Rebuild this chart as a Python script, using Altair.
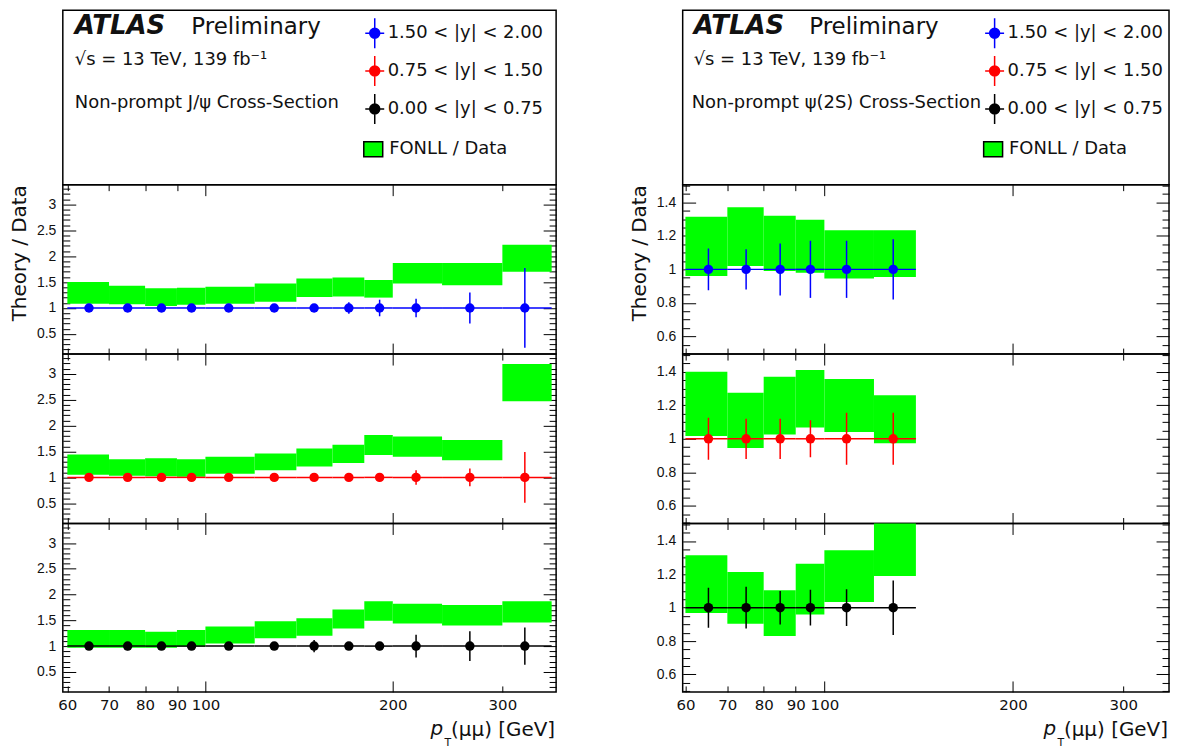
import altair as alt
import pandas as pd

FONT = "DejaVu Sans"
NUMFONT = "Liberation Sans"
TXT = "#111111"

RAP_LABELS = ["1.50 < |y| < 2.00", "0.75 < |y| < 1.50", "0.00 < |y| < 0.75"]
RAP_COLORS = ["#0000ff", "#ff0000", "#000000"]
BAND_COLOR = "#00ff00"
BAND_LABEL = "FONLL / Data"

X_TICK_LABELS = [60, 70, 80, 90, 100, 200, 300]
X_MAJOR = [100, 200]

# ---------------- Non-prompt J/psi ----------------
JPSI_EDGES = [60, 70, 80, 90, 100, 120, 140, 160, 180, 200, 240, 300, 360]
JPSI_PT = [65, 75, 85, 95, 109, 129, 149.5, 170, 190.5, 218, 266, 326]
JPSI_RATIO = [1.0, 1.0, 1.0, 1.0, 1.0, 1.0, 1.0, 1.0, 1.0, 1.0, 1.0, 1.0]
JPSI_LO = [
    [1.08, 1.07, 1.04, 1.06, 1.08, 1.12, 1.21, 1.22, 1.20, 1.47, 1.44, 1.70],
    [1.05, 1.03, 1.02, 1.01, 1.07, 1.14, 1.21, 1.28, 1.43, 1.40, 1.33, 2.47],
    [0.97, 0.97, 0.97, 0.99, 1.05, 1.15, 1.20, 1.34, 1.49, 1.44, 1.40, 1.46],
]
JPSI_HI = [
    [1.50, 1.43, 1.38, 1.39, 1.41, 1.47, 1.57, 1.59, 1.54, 1.87, 1.87, 2.22],
    [1.44, 1.35, 1.37, 1.35, 1.40, 1.46, 1.56, 1.63, 1.82, 1.79, 1.72, 3.19],
    [1.31, 1.31, 1.28, 1.31, 1.38, 1.48, 1.54, 1.71, 1.87, 1.82, 1.80, 1.87],
]
JPSI_ERR = [
    [0.04, 0.04, 0.04, 0.04, 0.05, 0.05, 0.06, 0.11, 0.16, 0.18, 0.30, 0.77],
    [0.06, 0.06, 0.05, 0.05, 0.05, 0.05, 0.06, 0.06, 0.08, 0.14, 0.17, 0.49],
    [0.07, 0.08, 0.06, 0.06, 0.06, 0.06, 0.12, 0.07, 0.08, 0.22, 0.29, 0.36],
]

# ---------------- Non-prompt psi(2S) ----------------
PSI_EDGES = [60, 70, 80, 90, 100, 120, 140]
PSI_PT = [65.3, 75, 85, 95, 108.5, 128.8]
PSI_RATIO = [1.0, 1.0, 1.0, 1.0, 1.0, 1.0]
PSI_LO = [
    [0.960, 1.020, 0.990, 0.980, 0.946, 0.954],
    [1.016, 0.945, 1.025, 1.067, 1.040, 0.973],
    [0.968, 0.904, 0.830, 0.960, 1.034, 1.190],
]
PSI_HI = [
    [1.314, 1.370, 1.320, 1.296, 1.234, 1.234],
    [1.400, 1.275, 1.370, 1.410, 1.357, 1.260],
    [1.314, 1.214, 1.104, 1.264, 1.344, 1.560],
]
PSI_ERR = [
    [0.125, 0.120, 0.155, 0.170, 0.170, 0.180],
    [0.125, 0.120, 0.120, 0.110, 0.155, 0.155],
    [0.120, 0.125, 0.100, 0.107, 0.110, 0.163],
]

L_YMAJOR = [0.5, 1.0, 1.5, 2.0, 2.5, 3.0]
L_YMINOR = [round(0.2 + 0.1 * i, 2) for i in range(32)]
R_YMAJOR = [0.6, 0.8, 1.0, 1.2, 1.4]
R_YMINOR = [round(0.5 + 0.05 * i, 2) for i in range(21)]

SYM = ("M0,-1.225L0,1.225M-0.776,0L0.776,0M-0.408,0A0.408,0.408,0,1,1,0.408,0"
       "A0.408,0.408,0,1,1,-0.408,0Z")
RECT = "M-1,-0.8L1,-0.8L1,0.8L-1,0.8Z"

HH = 175
HP = [170, 170, 169]
ONE = pd.DataFrame({"a": [1]})


def tick_cond(major, big, small):
    test = "indexof([" + ",".join(str(v) for v in major) + "], datum.value) >= 0"
    return {"condition": {"test": test, "value": big}, "value": small}


def panel(edges, pts, ratio, lo, hi, err, color, xdom, ydom, ymajor, yminor,
          W, H, ytitle, bottom):
    df = pd.DataFrame({"x0": edges[:-1], "x1": edges[1:], "pt": pts, "r": ratio,
                       "lo": lo, "hi": hi, "e": err})
    df["rlo"] = df["r"] - df["e"]
    df["rhi"] = df["r"] + df["e"]
    xs = alt.Scale(type="log", domain=xdom, nice=False)
    ys = alt.Scale(domain=ydom, nice=False, zero=False)
    base = alt.Chart(df)

    if bottom:
        xaxis = alt.Axis(orient="bottom", values=X_TICK_LABELS, format="d", ticks=False,
                         domain=False, grid=False, labelFont=FONT, labelFontSize=15,
                         labelColor=TXT, labelPadding=6, labelFlush=False,
                         labelOverlap=False, title=None)
    else:
        xaxis = None
    ykw = dict(orient="left", values=ymajor, format="~g", ticks=False, domain=False,
               grid=False, labelFont=NUMFONT, labelFontSize=14, labelColor=TXT,
               labelPadding=7, labelFlush=False, labelOverlap=False)
    if ytitle:
        ykw.update(title=ytitle, titleFont=FONT, titleFontSize=20,
                   titleFontWeight="normal", titleColor=TXT, titleAnchor="end",
                   titlePadding=7)
    else:
        ykw.update(title=None)
    yaxis = alt.Axis(**ykw)

    band = base.mark_rect(color=BAND_COLOR, clip=True).encode(
        x=alt.X("x0:Q", scale=xs, axis=xaxis), x2=alt.X2("x1"),
        y=alt.Y("lo:Q", scale=ys, axis=yaxis), y2=alt.Y2("hi"))
    hline = base.mark_rule(color=color, strokeWidth=1.5).encode(
        x=alt.X("x0:Q", scale=xs, axis=None), x2=alt.X2("x1"),
        y=alt.Y("r:Q", scale=ys, axis=None))
    ebar = base.mark_rule(color=color, strokeWidth=1.5, clip=True).encode(
        x=alt.X("pt:Q", scale=xs, axis=None),
        y=alt.Y("rlo:Q", scale=ys, axis=None), y2=alt.Y2("rhi"))
    dots = base.mark_circle(color=color, size=90, opacity=1).encode(
        x=alt.X("pt:Q", scale=xs, axis=None),
        y=alt.Y("r:Q", scale=ys, axis=None))

    ycom = dict(values=sorted(ymajor + yminor), labels=False, domain=False, grid=False,
                ticks=True, tickColor="black", tickWidth=1,
                tickSize=tick_cond(ymajor, 13, 7), title=None)
    xcom = dict(values=X_TICK_LABELS, labels=False, domain=False, grid=False,
                ticks=True, tickColor="black", tickWidth=1,
                tickSize=tick_cond(X_MAJOR, 11, 6), title=None)
    tl = base.mark_point(opacity=0, size=1).encode(
        x=alt.X("x0:Q", scale=xs, axis=None),
        y=alt.Y("lo:Q", scale=ys, axis=alt.Axis(orient="right", offset=-W, **ycom)))
    tr = base.mark_point(opacity=0, size=1).encode(
        x=alt.X("x0:Q", scale=xs, axis=None),
        y=alt.Y("lo:Q", scale=ys, axis=alt.Axis(orient="left", offset=-W, **ycom)))
    tb = base.mark_point(opacity=0, size=1).encode(
        y=alt.Y("lo:Q", scale=ys, axis=None),
        x=alt.X("x0:Q", scale=xs, axis=alt.Axis(orient="top", offset=-H, **xcom)))
    tt = base.mark_point(opacity=0, size=1).encode(
        y=alt.Y("lo:Q", scale=ys, axis=None),
        x=alt.X("x0:Q", scale=xs, axis=alt.Axis(orient="bottom", offset=-H, **xcom)))

    layers = [band, hline, ebar, dots, tl, tr, tb, tt]
    if bottom:
        one = alt.Chart(ONE)
        layers.append(one.mark_text(text="(\u03bc\u03bc) [GeV]", font=FONT, fontSize=20,
                                    align="right", baseline="alphabetic", color=TXT)
                      .encode(x=alt.value(W - 1), y=alt.value(H + 44)))
        layers.append(one.mark_text(text="p", font=FONT, fontSize=20, fontStyle="italic",
                                    align="left", baseline="alphabetic", color=TXT)
                      .encode(x=alt.value(W - 126), y=alt.value(H + 43)))
        layers.append(one.mark_text(text="T", font=FONT, fontSize=11,
                                    align="left", baseline="alphabetic", color=TXT)
                      .encode(x=alt.value(W - 112), y=alt.value(H + 54)))
    return alt.layer(*layers).resolve_axis(x="independent", y="independent").properties(
        width=W, height=H)


def header(W, H, dx, prelim_x, proc_text, proc_x, legx):
    one = alt.Chart(ONE)

    def txt(s, x, y, size, weight="normal", style="normal"):
        return one.mark_text(text=s, font=FONT, fontSize=size, fontWeight=weight,
                             fontStyle=style, align="left", baseline="alphabetic",
                             color=TXT).encode(x=alt.value(x), y=alt.value(y))

    t1 = txt("ATLAS", dx, 24, 26, weight="bold", style="italic")
    t2 = txt("Preliminary", prelim_x, 24, 23)
    t3 = txt("\u221as = 13 TeV, 139 fb\u207b\u00b9", dx, 55, 18)
    t4 = txt(proc_text, proc_x, 98, 18)

    rap_leg = alt.Legend(orient="none", legendX=legx - 12, legendY=10, title=None,
                         symbolType=SYM, symbolSize=600, symbolStrokeWidth=1.5,
                         symbolOpacity=1, labelFont=FONT, labelFontSize=18,
                         labelColor=TXT, rowPadding=0, labelOffset=0, padding=0)
    rscale = alt.Scale(domain=RAP_LABELS, range=RAP_COLORS)
    rap = alt.Chart(pd.DataFrame({"bin": RAP_LABELS})).mark_point(
        opacity=0, filled=True, size=1).encode(
        fill=alt.Fill("bin:N", scale=rscale, legend=rap_leg),
        stroke=alt.Stroke("bin:N", scale=rscale, legend=rap_leg),
        x=alt.value(W / 2), y=alt.value(H / 2))

    fon_leg = alt.Legend(orient="none", legendX=legx - 11, legendY=129, title=None,
                         symbolType=RECT, symbolSize=361, symbolStrokeColor="black",
                         symbolStrokeWidth=1.5, symbolOpacity=1, labelFont=FONT,
                         labelFontSize=18, labelColor=TXT, labelOffset=5.5, padding=0)
    fon = alt.Chart(pd.DataFrame({"m": [BAND_LABEL]})).mark_square(
        opacity=0, filled=True, size=1).encode(
        color=alt.Color("m:N", scale=alt.Scale(domain=[BAND_LABEL], range=[BAND_COLOR]),
                        legend=fon_leg),
        x=alt.value(W / 2), y=alt.value(H / 2))
    return alt.layer(t1, t2, t3, t4, rap, fon).properties(width=W, height=H)


def column(edges, pts, ratio, los, his, errs, xdom, ydom, ymaj, ymin, W):
    panels = []
    for i in range(3):
        panels.append(panel(edges, pts, ratio, los[i], his[i], errs[i], RAP_COLORS[i],
                            xdom, ydom, ymaj, ymin, W, HP[i],
                            "Theory / Data" if i == 0 else None, i == 2))
    return panels


WL, WR = 495, 488
lp = column(JPSI_EDGES, JPSI_PT, JPSI_RATIO, JPSI_LO, JPSI_HI, JPSI_ERR,
            [59, 366], [0.11, 3.38], L_YMAJOR, L_YMINOR, WL)
rp = column(PSI_EDGES, PSI_PT, PSI_RATIO, PSI_LO, PSI_HI, PSI_ERR,
            [59.4, 355], [0.495, 1.505], R_YMAJOR, R_YMINOR, WR)
lh = header(WL, HH, 12, 129, "Non-prompt J/\u03c8 Cross-Section", 12, 312)
rh = header(WR, HH, 11, 127, "Non-prompt \u03c8(2S) Cross-Section", 9, 312)

cells = [lh, rh, lp[0], rp[0], lp[1], rp[1], lp[2], rp[2]]
chart = alt.concat(*cells, columns=2, bounds="flush",
                   spacing=alt.RowColnumber(row=0, column=127)).resolve_scale(
    x="independent", y="independent", fill="independent",
    stroke="independent", color="independent").properties(
    padding={"left": 0, "top": 0, "right": 2, "bottom": 0},
    background="white").configure_view(stroke="black", strokeWidth=1.5)

chart.save("out.html", embed_options={"renderer": "svg", "actions": False})
